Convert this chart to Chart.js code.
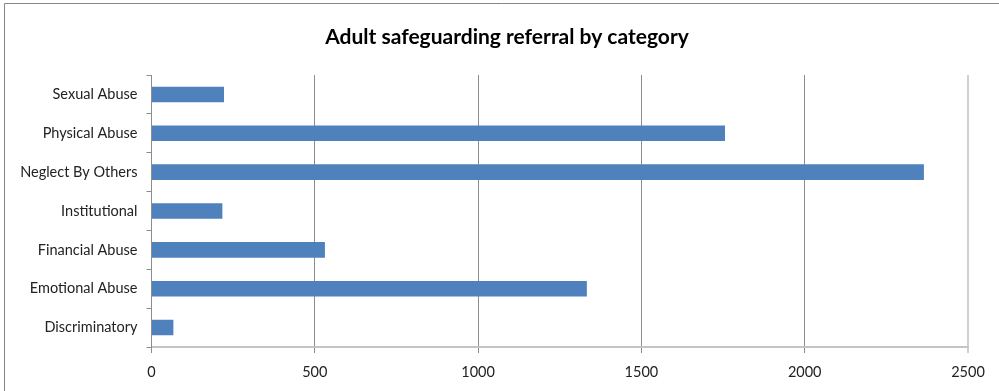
<!DOCTYPE html>
<html>
<head>
<meta charset="utf-8">
<title>Adult safeguarding referral by category</title>
<script src="https://cdn.jsdelivr.net/npm/chart.js@4"></script>
<style>
  html, body { margin: 0; padding: 0; background: #fff; }
  #wrap { width: 999px; height: 391px; position: relative; }
</style>
</head>
<body>
<div id="wrap"><canvas id="referralChart" width="999" height="391"></canvas></div>
<script>
// Referrals per category, top to bottom as shown
const categories = ["Sexual Abuse", "Physical Abuse", "Neglect By Others", "Institutional",
                    "Financial Abuse", "Emotional Abuse", "Discriminatory"];
const referrals = [222, 1756, 2365, 217, 531, 1333, 67];
const xTicks = [0, 500, 1000, 1500, 2000, 2500];
const chartTitle = "Adult safeguarding referral by category";

// thin frame round the chart, plus the heading
const frame = {
  id: "frame",
  beforeDraw(chart) {
    const ctx = chart.ctx;
    ctx.save();
    ctx.strokeStyle = "#868686";
    ctx.lineWidth = 1;
    ctx.beginPath();
    ctx.moveTo(4.5, 391);
    ctx.lineTo(4.5, 3.5);
    ctx.lineTo(999, 3.5);
    ctx.stroke();

    ctx.fillStyle = "#000";
    ctx.font = "bold 21px Lato";
    ctx.textAlign = "center";
    ctx.textBaseline = "middle";
    ctx.fillText(chartTitle, 507, 37);
    ctx.restore();
  }
};

new Chart(document.getElementById("referralChart"), {
  type: "bar",
  data: {
    labels: categories,
    datasets: [{
      label: "Referrals",
      data: referrals,
      backgroundColor: "#4F81BD",
      borderWidth: 0,
      barPercentage: 0.4,
      categoryPercentage: 1
    }]
  },
  options: {
    indexAxis: "y",
    responsive: false,
    animation: false,
    layout: { padding: { left: 0, right: 31, top: 75, bottom: 0 } },
    plugins: {
      legend: { display: false },
      tooltip: { enabled: false },
      title: { display: false }
    },
    scales: {
      x: {
        min: 0,
        max: 2500,
        afterBuildTicks(s) { s.ticks = xTicks.map(v => ({ value: v })); },
        afterFit(s) { s.height = 44; },
        grid: {
          color: ctx => ctx.tick && ctx.tick.value === 2500 ? "#d0d0d0" : "#8c8c8c",
          lineWidth: ctx => ctx.tick && ctx.tick.value === 2500 ? 2 : 1,
          tickLength: 6
        },
        border: { color: "#c4c4c4", width: 2 },
        ticks: {
          color: "#222",
          padding: 11,
          maxRotation: 0,
          font: { family: "Lato", size: 14.5 },
          callback: v => String(v)
        }
      },
      y: {
        afterFit(s) { s.width = 151.5; },
        grid: { drawOnChartArea: false, color: "#8c8c8c", tickLength: 5 },
        border: { color: "#8c8c8c", width: 1 },
        ticks: {
          color: "#222",
          padding: 9,
          font: { family: "Lato", size: 14.5 }
        }
      }
    }
  },
  plugins: [frame]
});
</script>
</body>
</html>
